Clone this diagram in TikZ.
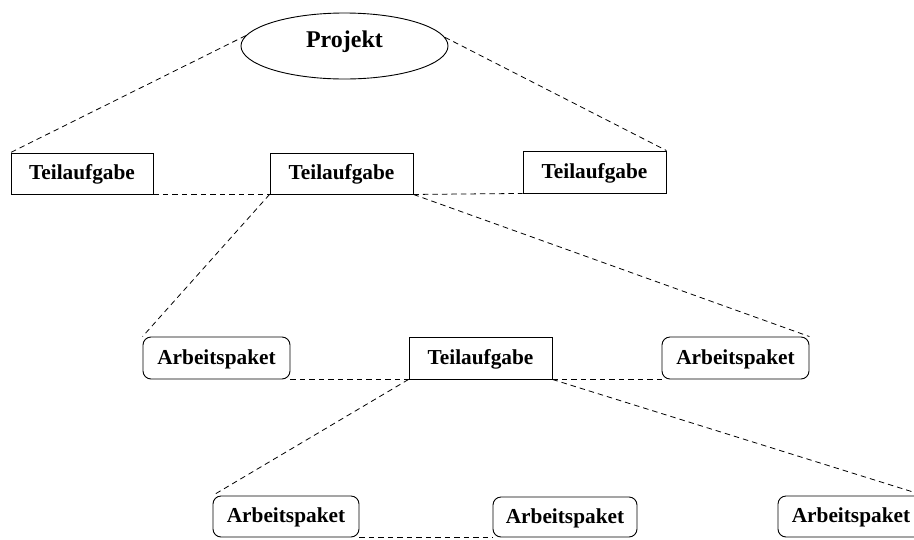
\documentclass[tikz,border=0pt]{standalone}
\usepackage{fontspec}
\setmainfont{Liberation Serif}
\usetikzlibrary{shapes.geometric}

\begin{document}
\begin{tikzpicture}[x=1pt,y=-1pt,
  lbl/.style={font=\fontsize{21.3}{25}\selectfont\bfseries, inner sep=0pt, draw, line width=0.9pt,
              text height=15.5pt, text depth=3.5pt},
  taskbox/.style={lbl, rectangle},
  workbox/.style={lbl, rectangle, rounded corners=8pt},
  link/.style={dashed, dash pattern=on 5.5pt off 4pt, line width=0.8pt}
]
  % page frame
  \clip (0,0) rectangle (914,539);
  \fill[white] (0,0) rectangle (914,539);

  % root
  \node[draw, ellipse, line width=0.9pt, inner sep=0pt,
        minimum width=207pt, minimum height=66pt,
        font=\fontsize{24}{28}\selectfont\bfseries,
        text height=12pt, text depth=9pt] (proj) at (344.5,46) {Projekt};

  % first level
  \node[taskbox, minimum width=142pt, minimum height=41pt] (t1) at (82,173.5) {Teilaufgabe};
  \node[taskbox, minimum width=143pt, minimum height=41pt] (t2) at (341.5,173.5) {Teilaufgabe};
  \node[taskbox, minimum width=143pt, minimum height=42pt] (t3) at (594.5,172) {Teilaufgabe};

  % second level
  \node[workbox, minimum width=147pt, minimum height=42pt] (a1) at (216.5,358) {Arbeitspaket};
  \node[taskbox, minimum width=143pt, minimum height=42pt] (t4) at (480.5,358) {Teilaufgabe};
  \node[workbox, minimum width=147pt, minimum height=42pt] (a2) at (735.5,358) {Arbeitspaket};

  % third level
  \node[workbox, minimum width=146pt, minimum height=41pt] (a3) at (286,516.5) {Arbeitspaket};
  \node[workbox, minimum width=144pt, minimum height=40pt] (a4) at (565,517) {Arbeitspaket};
  \node[workbox, minimum width=146pt, minimum height=41pt] (a5) at (851,516.5) {Arbeitspaket};

  % connectors
  \draw[link] (proj.174) -- (t1.north west);
  \draw[link] (proj.5) -- (t3.north east);
  \draw[link] (t1.south east) -- (t2.south west);
  \draw[link] (t2.south east) -- (t3.south west);
  \draw[link] (t2.south west) -- (a1.north west);
  \draw[link] (t2.south east) -- (a2.north east);
  \draw[link] (a1.south east) -- (t4.south west);
  \draw[link] (t4.south east) -- (a2.south west);
  \draw[link] (t4.south west) -- (a3.north west);
  \draw[link] (t4.south east) -- (a5.north east);
  \draw[link] (a3.south east) -- (a4.south west);
\end{tikzpicture}
\end{document}
